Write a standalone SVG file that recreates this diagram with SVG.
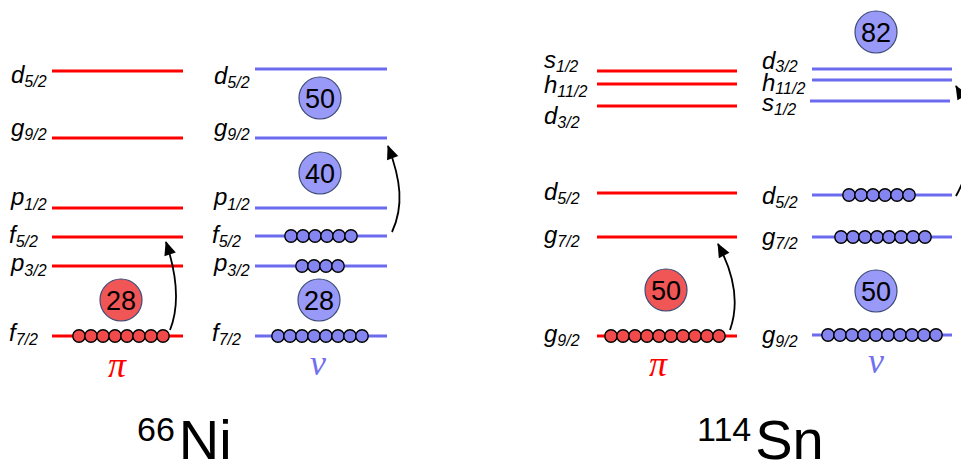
<svg xmlns="http://www.w3.org/2000/svg" width="961" height="462" viewBox="0 0 961 462">
  <style>
    .pl { stroke: #ff0000; stroke-width: 3.2; fill: none; }
    .nl { stroke: #6b6bf0; stroke-width: 3.2; fill: none; }
    .lab { font-family: "Liberation Sans", "DejaVu Sans", sans-serif; font-style: italic; font-size: 24px; fill: #000; }
    .sub { font-size: 16px; }
    .pc { fill: #f05656; stroke: #3b4a75; stroke-width: 1.2; }
    .nc { fill: #9999f8; stroke: #3b4a75; stroke-width: 1.2; }
    .num { font-family: "Liberation Sans", "DejaVu Sans", sans-serif; font-size: 27px; fill: #000; text-anchor: middle; }
    .pd { fill: #f04a4a; stroke: #000; stroke-width: 1.4; }
    .nd { fill: #8585f2; stroke: #000; stroke-width: 1.4; }
    .sym { font-family: "Liberation Serif", "DejaVu Serif", serif; font-style: italic; font-size: 36px; text-anchor: middle; }
    .title { font-family: "Liberation Sans", Arial, sans-serif; fill: #000; }
    .arr { stroke: #000; stroke-width: 1.8; fill: none; marker-end: url(#head); }
  </style>
  <defs>
    <marker id="head" markerUnits="userSpaceOnUse" markerWidth="14" markerHeight="12" refX="13" refY="6" orient="auto" overflow="visible">
      <path d="M0,0 L14,6 L0,12 Z" fill="#000"/>
    </marker>
    <circle id="pdot" r="6.2" class="pd"/>
    <circle id="ndot" r="6.2" class="nd"/>
  </defs>

  <!-- 66Ni, protons -->
  <g id="ni-protons">
    <line class="pl" x1="52" y1="71" x2="183" y2="71"/>
    <line class="pl" x1="52" y1="138" x2="183" y2="138"/>
    <line class="pl" x1="52" y1="208" x2="183" y2="208"/>
    <line class="pl" x1="52" y1="237" x2="183" y2="237"/>
    <line class="pl" x1="52" y1="266" x2="183" y2="266"/>
    <line class="pl" x1="52" y1="336" x2="183" y2="336"/>
    <text class="lab" x="11" y="83">d<tspan class="sub" dy="4">5/2</tspan></text>
    <text class="lab" x="11" y="136">g<tspan class="sub" dy="4">9/2</tspan></text>
    <text class="lab" x="11" y="205">p<tspan class="sub" dy="5">1/2</tspan></text>
    <text class="lab" x="9" y="243">f<tspan class="sub" dy="4">5/2</tspan></text>
    <text class="lab" x="11" y="271">p<tspan class="sub" dy="5">3/2</tspan></text>
    <text class="lab" x="9" y="341">f<tspan class="sub" dy="4">7/2</tspan></text>
    <circle class="pc" cx="121" cy="300" r="21"/>
    <text class="num" x="121" y="309.5">28</text>
    <g>
      <use href="#pdot" x="79" y="336"/><use href="#pdot" x="91" y="336"/>
      <use href="#pdot" x="103" y="336"/><use href="#pdot" x="115" y="336"/>
      <use href="#pdot" x="127" y="336"/><use href="#pdot" x="139" y="336"/>
      <use href="#pdot" x="151" y="336"/><use href="#pdot" x="163" y="336"/>
    </g>
    <text class="sym" x="117" y="377" fill="#ff0000">π</text>
  </g>

  <!-- 66Ni, neutrons -->
  <g id="ni-neutrons">
    <line class="nl" x1="255" y1="69" x2="387" y2="69"/>
    <line class="nl" x1="255" y1="138" x2="387" y2="138"/>
    <line class="nl" x1="255" y1="208" x2="387" y2="208"/>
    <line class="nl" x1="255" y1="236" x2="387" y2="236"/>
    <line class="nl" x1="255" y1="266" x2="387" y2="266"/>
    <line class="nl" x1="255" y1="336" x2="387" y2="336"/>
    <text class="lab" x="214" y="84">d<tspan class="sub" dy="4">5/2</tspan></text>
    <text class="lab" x="214" y="136">g<tspan class="sub" dy="4">9/2</tspan></text>
    <text class="lab" x="214" y="205">p<tspan class="sub" dy="5">1/2</tspan></text>
    <text class="lab" x="212" y="243">f<tspan class="sub" dy="4">5/2</tspan></text>
    <text class="lab" x="214" y="271">p<tspan class="sub" dy="5">3/2</tspan></text>
    <text class="lab" x="212" y="341">f<tspan class="sub" dy="4">7/2</tspan></text>
    <circle class="nc" cx="320" cy="98" r="21"/>
    <text class="num" x="320" y="107.5">50</text>
    <circle class="nc" cx="320" cy="173" r="21"/>
    <text class="num" x="320" y="182.5">40</text>
    <circle class="nc" cx="319" cy="300" r="21"/>
    <text class="num" x="319" y="309.5">28</text>
    <g>
      <use href="#ndot" x="291" y="236"/><use href="#ndot" x="303" y="236"/>
      <use href="#ndot" x="315" y="236"/><use href="#ndot" x="327" y="236"/>
      <use href="#ndot" x="339" y="236"/><use href="#ndot" x="351" y="236"/>
    </g>
    <g>
      <use href="#ndot" x="302" y="266"/><use href="#ndot" x="314" y="266"/>
      <use href="#ndot" x="326" y="266"/><use href="#ndot" x="338" y="266"/>
    </g>
    <g>
      <use href="#ndot" x="278" y="336"/><use href="#ndot" x="290" y="336"/>
      <use href="#ndot" x="302" y="336"/><use href="#ndot" x="314" y="336"/>
      <use href="#ndot" x="326" y="336"/><use href="#ndot" x="338" y="336"/>
      <use href="#ndot" x="350" y="336"/><use href="#ndot" x="362" y="336"/>
    </g>
    <text class="sym" x="318" y="375" fill="#7070f0">ν</text>
  </g>

  <!-- 114Sn, protons -->
  <g id="sn-protons">
    <line class="pl" x1="597" y1="71" x2="737" y2="71"/>
    <line class="pl" x1="597" y1="84" x2="737" y2="84"/>
    <line class="pl" x1="597" y1="106" x2="737" y2="106"/>
    <line class="pl" x1="597" y1="193" x2="737" y2="193"/>
    <line class="pl" x1="597" y1="237" x2="737" y2="237"/>
    <line class="pl" x1="597" y1="336" x2="737" y2="336"/>
    <text class="lab" x="544" y="68">s<tspan class="sub" dy="4">1/2</tspan></text>
    <text class="lab" x="544" y="93">h<tspan class="sub" dy="4">11/2</tspan></text>
    <text class="lab" x="544" y="124">d<tspan class="sub" dy="4">3/2</tspan></text>
    <text class="lab" x="544" y="200">d<tspan class="sub" dy="4">5/2</tspan></text>
    <text class="lab" x="544" y="243">g<tspan class="sub" dy="4">7/2</tspan></text>
    <text class="lab" x="544" y="342">g<tspan class="sub" dy="4">9/2</tspan></text>
    <circle class="pc" cx="666" cy="290" r="21"/>
    <text class="num" x="666" y="299.5">50</text>
    <g>
      <use href="#pdot" x="611" y="336"/><use href="#pdot" x="623" y="336"/>
      <use href="#pdot" x="635" y="336"/><use href="#pdot" x="647" y="336"/>
      <use href="#pdot" x="659" y="336"/><use href="#pdot" x="671" y="336"/>
      <use href="#pdot" x="683" y="336"/><use href="#pdot" x="695" y="336"/>
      <use href="#pdot" x="707" y="336"/><use href="#pdot" x="719" y="336"/>
    </g>
    <text class="sym" x="658" y="376" fill="#ff0000">π</text>
  </g>

  <!-- 114Sn, neutrons -->
  <g id="sn-neutrons">
    <line class="nl" x1="812" y1="69" x2="952" y2="69"/>
    <line class="nl" x1="812" y1="80" x2="952" y2="80"/>
    <line class="nl" x1="810" y1="101" x2="950" y2="101"/>
    <line class="nl" x1="812" y1="195" x2="952" y2="195"/>
    <line class="nl" x1="812" y1="237" x2="952" y2="237"/>
    <line class="nl" x1="812" y1="335" x2="952" y2="335"/>
    <text class="lab" x="762" y="69">d<tspan class="sub" dy="3">3/2</tspan></text>
    <text class="lab" x="762" y="91">h<tspan class="sub" dy="3">11/2</tspan></text>
    <text class="lab" x="762" y="111">s<tspan class="sub" dy="4">1/2</tspan></text>
    <text class="lab" x="762" y="204">d<tspan class="sub" dy="4">5/2</tspan></text>
    <text class="lab" x="762" y="245">g<tspan class="sub" dy="4">7/2</tspan></text>
    <text class="lab" x="762" y="343">g<tspan class="sub" dy="4">9/2</tspan></text>
    <circle class="nc" cx="876" cy="32" r="21"/>
    <text class="num" x="876" y="41.5">82</text>
    <circle class="nc" cx="876" cy="291" r="21"/>
    <text class="num" x="876" y="300.5">50</text>
    <g>
      <use href="#ndot" x="849" y="195"/><use href="#ndot" x="861" y="195"/>
      <use href="#ndot" x="873" y="195"/><use href="#ndot" x="885" y="195"/>
      <use href="#ndot" x="897" y="195"/><use href="#ndot" x="909" y="195"/>
    </g>
    <g>
      <use href="#ndot" x="841" y="237"/><use href="#ndot" x="853" y="237"/>
      <use href="#ndot" x="865" y="237"/><use href="#ndot" x="877" y="237"/>
      <use href="#ndot" x="889" y="237"/><use href="#ndot" x="901" y="237"/>
      <use href="#ndot" x="913" y="237"/><use href="#ndot" x="925" y="237"/>
    </g>
    <g>
      <use href="#ndot" x="828" y="335"/><use href="#ndot" x="840" y="335"/>
      <use href="#ndot" x="852" y="335"/><use href="#ndot" x="864" y="335"/>
      <use href="#ndot" x="876" y="335"/><use href="#ndot" x="888" y="335"/>
      <use href="#ndot" x="900" y="335"/><use href="#ndot" x="912" y="335"/>
      <use href="#ndot" x="924" y="335"/><use href="#ndot" x="936" y="335"/>
    </g>
    <text class="sym" x="876" y="373" fill="#7070f0">ν</text>
  </g>

  <!-- excitation arrows -->
  <g id="connectors">
    <path class="arr" d="M170,330 C180,305 177,275 166,242"/>
    <path class="arr" d="M392,232 C404,206 401,180 388,146"/>
    <path class="arr" d="M730,330 C740,302 733,272 718,244"/>
    <path class="arr" d="M956,196 C976,160 976,120 956,86"/>
  </g>

  <!-- nucleus names -->
  <g id="titles">
    <text class="title" x="137" y="441"><tspan font-size="34">66</tspan><tspan font-size="56" dx="4" dy="18">Ni</tspan></text>
    <text class="title" x="697" y="441"><tspan font-size="34">114</tspan><tspan font-size="56" dx="4" dy="18">Sn</tspan></text>
  </g>
</svg>
